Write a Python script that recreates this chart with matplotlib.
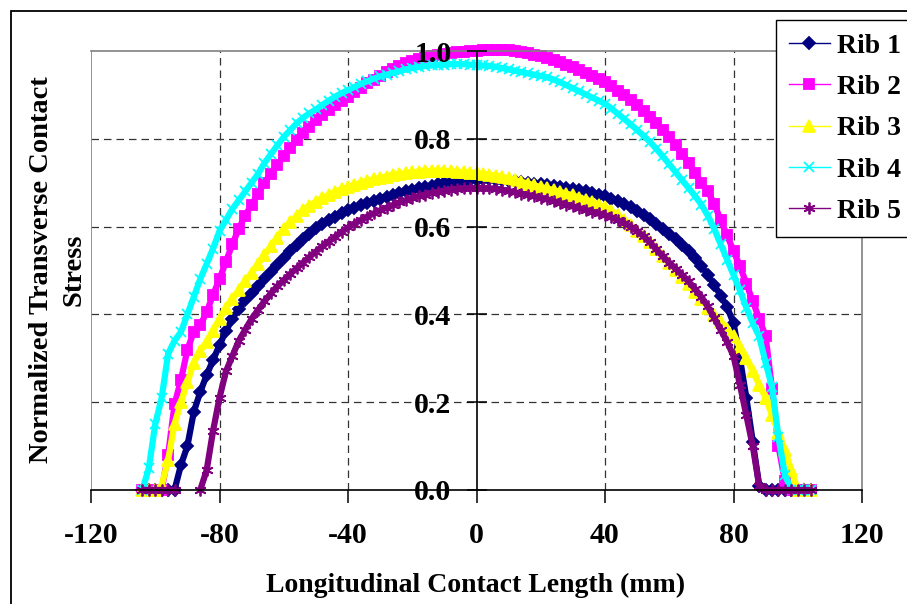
import numpy as np
import matplotlib
matplotlib.use("Agg")
import matplotlib.pyplot as plt
from matplotlib.patches import Rectangle

plt.rcParams["font.family"] = ["Liberation Serif", "DejaVu Serif"]
plt.rcParams["font.weight"] = "bold"

# position along the contact patch (mm), 2 mm apart
length_mm = np.arange(-104, 105, 2)

# normalized transverse contact stress per rib, read left to right
rib1 = [0, 0, 0, 0, 0, 0, 0.057, 0.10, 0.178, 0.223, 0.262, 0.296, 0.33, 0.362, 0.39, 0.413,
        0.432, 0.449, 0.465, 0.48, 0.496, 0.512, 0.528, 0.545, 0.558, 0.571, 0.583, 0.596,
        0.606, 0.615, 0.623, 0.63, 0.637, 0.643, 0.649, 0.654, 0.659, 0.664, 0.668, 0.672,
        0.676, 0.68, 0.684, 0.687, 0.69, 0.693, 0.696, 0.699, 0.701, 0.703, 0.705, 0.706, 0.707,
        0.708, 0.708, 0.707, 0.706, 0.704, 0.703, 0.701, 0.70, 0.698, 0.697, 0.695, 0.693,
        0.691, 0.689, 0.686, 0.683, 0.68, 0.677, 0.673, 0.669, 0.664, 0.658, 0.651, 0.644,
        0.636, 0.627, 0.617, 0.606, 0.595, 0.583, 0.571, 0.558, 0.545, 0.529, 0.51, 0.49,
        0.467, 0.443, 0.417, 0.38, 0.30, 0.21, 0.11, 0.01, 0, 0, 0, 0, 0, 0, 0, 0]

rib2 = [0, 0, 0, 0, 0.08, 0.195, 0.25, 0.32, 0.36, 0.375, 0.405, 0.445, 0.48, 0.52, 0.56, 0.595,
        0.625, 0.65, 0.675, 0.70, 0.72, 0.74, 0.76, 0.78, 0.797, 0.813, 0.828, 0.842, 0.855,
        0.866, 0.877, 0.887, 0.896, 0.906, 0.916, 0.926, 0.935, 0.944, 0.952, 0.96, 0.966,
        0.972, 0.978, 0.982, 0.985, 0.988, 0.991, 0.993, 0.995, 0.997, 0.998, 0.999, 1.0,
        1.002, 1.003, 1.003, 1.003, 1.002, 1.0, 0.998, 0.995, 0.992, 0.988, 0.984, 0.979,
        0.974, 0.969, 0.963, 0.957, 0.951, 0.944, 0.937, 0.929, 0.92, 0.91, 0.90, 0.889,
        0.877, 0.864, 0.85, 0.836, 0.82, 0.804, 0.786, 0.766, 0.745, 0.723, 0.70, 0.68, 0.652,
        0.615, 0.58, 0.545, 0.51, 0.47, 0.43, 0.39, 0.35, 0.23, 0.10, 0.02, 0, 0, 0, 0]

rib3 = [0, 0, 0, 0.01, 0.068, 0.15, 0.20, 0.245, 0.29, 0.316, 0.338, 0.362, 0.39, 0.415, 0.435,
        0.455, 0.475, 0.495, 0.515, 0.535, 0.555, 0.575, 0.595, 0.61, 0.624, 0.637, 0.648,
        0.657, 0.665, 0.672, 0.679, 0.685, 0.69, 0.695, 0.70, 0.704, 0.708, 0.711, 0.714,
        0.717, 0.72, 0.722, 0.724, 0.725, 0.726, 0.727, 0.727, 0.727, 0.726, 0.725, 0.724,
        0.723, 0.722,
        0.72, 0.718, 0.716, 0.713, 0.71, 0.706, 0.702, 0.698, 0.694, 0.69, 0.687, 0.683,
        0.679, 0.675, 0.671, 0.666, 0.661, 0.656, 0.65, 0.644, 0.636, 0.626, 0.615, 0.603,
        0.591, 0.578, 0.564, 0.549, 0.534, 0.518, 0.502, 0.486, 0.47, 0.452, 0.434, 0.415,
        0.398, 0.382, 0.366, 0.35, 0.325, 0.30, 0.27, 0.24, 0.21, 0.17, 0.13, 0.09, 0.045,
        0, 0, 0]

rib4 = [0, 0.05, 0.15, 0.21, 0.31, 0.34, 0.36, 0.40, 0.44, 0.48, 0.515, 0.55, 0.59, 0.615,
        0.64, 0.66, 0.68, 0.70, 0.72, 0.745, 0.765, 0.785, 0.804, 0.82, 0.835, 0.848, 0.858,
        0.867, 0.877, 0.887, 0.896, 0.904, 0.911, 0.918, 0.925, 0.931, 0.937, 0.942, 0.946,
        0.95, 0.954, 0.958, 0.961, 0.964, 0.966, 0.967, 0.968, 0.969, 0.97, 0.97, 0.97, 0.969,
        0.968,
        0.967, 0.966, 0.964, 0.961, 0.958, 0.955, 0.952, 0.949, 0.946, 0.943, 0.94, 0.935,
        0.929, 0.922, 0.915, 0.908, 0.901, 0.894, 0.887, 0.88, 0.869, 0.857, 0.845, 0.833,
        0.82, 0.807, 0.793, 0.777, 0.76, 0.742, 0.724, 0.706, 0.688, 0.67, 0.65, 0.625, 0.595,
        0.56, 0.525, 0.49, 0.455, 0.415, 0.38, 0.35, 0.29, 0.235, 0.12, 0.035, 0, 0, 0, 0]

rib5 = [0, 0, 0, 0, 0, 0, np.nan, np.nan, np.nan, 0, 0.045, 0.135, 0.21, 0.27, 0.305, 0.34,
        0.365, 0.39, 0.41, 0.43, 0.448, 0.464, 0.478, 0.492, 0.505, 0.518, 0.531, 0.543,
        0.555, 0.566, 0.577, 0.588, 0.598, 0.607, 0.615, 0.623, 0.63, 0.637, 0.643, 0.649,
        0.655, 0.66, 0.665, 0.669, 0.673, 0.676, 0.679, 0.682, 0.684, 0.686, 0.687, 0.688,
        0.688,
        0.688, 0.687, 0.686, 0.684, 0.681, 0.678, 0.675, 0.672, 0.669, 0.666, 0.662, 0.658,
        0.654, 0.65, 0.646, 0.642, 0.638, 0.634, 0.63, 0.626, 0.621, 0.615, 0.608, 0.60,
        0.59, 0.578, 0.564, 0.548, 0.532, 0.518, 0.504, 0.49, 0.475, 0.458, 0.44, 0.418,
        0.392, 0.365, 0.338, 0.305, 0.24, 0.17, 0.10, 0.01, 0, 0, 0, 0, 0, 0, 0, 0]

ribs = [
    ("Rib 1", rib1, "#000080", "D", 6.5),
    ("Rib 2", rib2, "#FF00FF", "s", 6.5),
    ("Rib 3", rib3, "#FFFF00", "^", 8.0),
    ("Rib 4", rib4, "#00FFFF", "x", 7.5),
    ("Rib 5", rib5, "#800080", (6, 2, 0), 8.5),
]

x_ticks = [-120, -80, -40, 0, 40, 80, 120]
y_ticks = [0.0, 0.2, 0.4, 0.6, 0.8, 1.0]

fig = plt.figure(figsize=(9.07, 6.04), dpi=100)
ax = fig.add_axes([91 / 907, 1 - 490 / 604, 771 / 907, 439 / 604])

# dashed grid under the curves
for gx in [-80, -40, 40, 80]:
    ax.axvline(gx, color="#333333", lw=0.9, ls=(0, (6, 4)), zorder=0.5)
for gy in [0.2, 0.4, 0.6, 0.8]:
    ax.axhline(gy, color="#333333", lw=0.9, ls=(0, (6, 4)), zorder=0.5)
ax.axvline(-120, color="#808080", lw=1.2, zorder=0.6)

for name, vals, col, mk, ms in ribs:
    y = np.array(vals, dtype=float)
    # dense marker trail: a wide stroke in the series colour behind the markers
    ax.plot(length_mm, y, color=col, lw=4.5, solid_capstyle="butt", clip_on=False, zorder=2)
    ax.plot(length_mm, y, color=col, lw=1.0, marker=mk, ms=ms, mfc=col, mec=col,
            mew=1.3, label=name, clip_on=False, zorder=2)

ax.set_xlim(-120, 120)
ax.set_ylim(0, 1.0)
ax.set_axisbelow(False)

ax.spines["left"].set_position(("data", 0))
ax.spines["left"].set_color("black")
ax.spines["bottom"].set_color("black")
ax.spines["top"].set_color("#808080")
ax.spines["right"].set_color("#808080")
for s in ax.spines.values():
    s.set_linewidth(1.2)

ax.set_xticks(x_ticks)
ax.set_xticklabels([str(t) for t in x_ticks])
ax.set_yticks(y_ticks)
ax.set_yticklabels([f"{t:.1f}" for t in y_ticks])
ax.tick_params(axis="x", direction="out", length=9, width=1.1, pad=14, labelsize=21.5)
ax.tick_params(axis="y", direction="inout", length=14, width=1.1, pad=11, labelsize=21.5)

fig.text(58 / 907, 1 - 270 / 604, "Normalized Transverse Contact\nStress", rotation=90,
         ha="center", va="center", fontsize=20.5, fontweight="bold", linespacing=1.4,
         multialignment="center")
fig.text(476 / 907, 1 - 585 / 604, "Longitudinal Contact Length (mm)",
         ha="center", va="center", fontsize=20, fontweight="bold")

leg = ax.legend(loc="upper left", bbox_to_anchor=(776 / 907, 1 - 20 / 604),
                bbox_transform=fig.transFigure, fancybox=False, framealpha=1,
                edgecolor="black", borderaxespad=0, borderpad=0.48, labelspacing=0.57,
                handlelength=1.45, handletextpad=0.28, prop={"size": 20, "weight": "bold"})
leg.get_frame().set_linewidth(1.0)

# outer chart frame
fig.patches.append(Rectangle((11 / 907, -0.1), 1.2, 1 - 11 / 604 + 0.1,
                             transform=fig.transFigure, fill=False, lw=1.3, ec="black"))

fig.savefig("out.png", dpi=100)
